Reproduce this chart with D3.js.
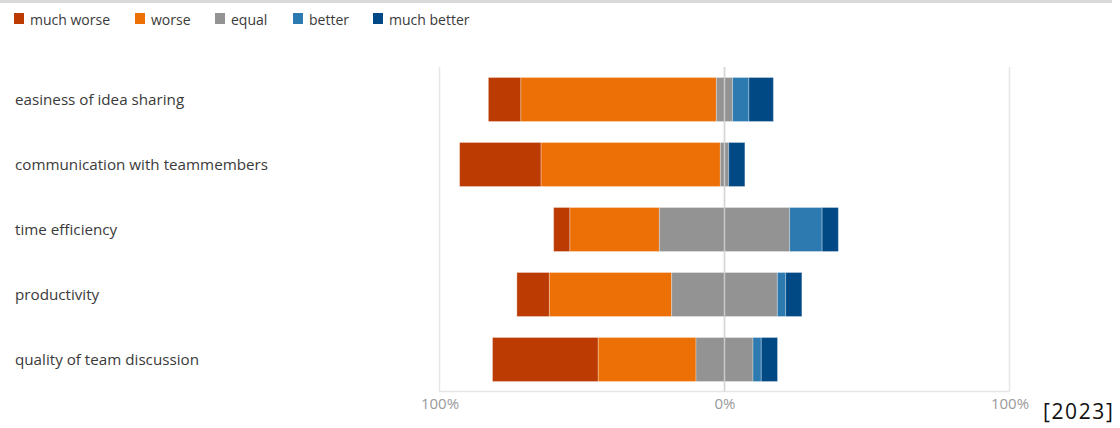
<!DOCTYPE html>
<html>
<head>
<meta charset="utf-8">
<script src="https://cdn.jsdelivr.net/npm/d3@7/dist/d3.min.js"></script>
<style>
  html, body { margin: 0; padding: 0; background: #fff; }
  svg { display: block; font-family: "Open Sans", "Noto Sans", sans-serif; }
</style>
</head>
<body>
<svg id="chart" width="1120" height="428"></svg>
<script>
// ---- data (percent of respondents) ----
const categories = [
  "easiness of idea sharing",
  "communication with teammembers",
  "time efficiency",
  "productivity",
  "quality of team discussion"
];
const seriesNames = ["much worse", "worse", "equal", "better", "much better"];
const muchWorse  = [11.4, 28.6,  5.7, 11.4, 37.1];
const worse      = [68.6, 62.9, 31.4, 42.9, 34.3];
const equal      = [ 5.7,  2.9, 45.7, 37.1, 20.0];
const better     = [ 5.7,  0.0, 11.4,  2.9,  2.9];
const muchBetter = [ 8.6,  5.7,  5.7,  5.7,  5.7];
const tickValues = [-100, 0, 100];
const tickLabels = ["100%", "0%", "100%"];
const yearLabel = "[2023]";
const colors = ["#BB3B02", "#EC7006", "#939393", "#2C7AB0", "#004985"];

const series = [muchWorse, worse, equal, better, muchBetter];

const svg = d3.select("#chart");

// top band
svg.append("rect").attr("x", 0).attr("y", 0).attr("width", 1112).attr("height", 3).attr("fill", "#d9d9d9");

// scales
const x = d3.scaleLinear().domain([-100, 100]).range([439.5, 1009.5]);
const y = d3.scaleBand().domain(categories).range([67, 392]).paddingInner(0.323).paddingOuter(0.1615);

// grid
const grid = svg.append("g");
grid.selectAll("line.v").data([-100, 100]).join("line")
  .attr("x1", d => x(d)).attr("x2", d => x(d))
  .attr("y1", 67).attr("y2", 391.5)
  .attr("stroke", "#e6e6e6").attr("stroke-width", 1.5);
grid.append("line")
  .attr("x1", x(0)).attr("x2", x(0)).attr("y1", 67).attr("y2", 391.5)
  .attr("stroke", "#e6e6e6").attr("stroke-width", 1.5);
grid.append("line")
  .attr("x1", x(-100)).attr("x2", x(100)).attr("y1", 391.5).attr("y2", 391.5)
  .attr("stroke", "#e6e6e6").attr("stroke-width", 1.5);

// segments
const segs = [];
categories.forEach((c, i) => {
  let start = -(muchWorse[i] + worse[i] + equal[i] / 2);
  series.forEach((s, k) => {
    const v = s[i];
    if (v > 0) segs.push({ cat: c, k, x0: start, x1: start + v });
    start += v;
  });
});
svg.append("g").selectAll("rect").data(segs).join("rect")
  .attr("x", d => x(d.x0))
  .attr("width", d => x(d.x1) - x(d.x0))
  .attr("y", d => y(d.cat))
  .attr("height", y.bandwidth())
  .attr("fill", d => colors[d.k])
  .attr("stroke", "rgba(255,255,255,0.3)")
  .attr("stroke-width", 1);

// zero line over bars
svg.append("line")
  .attr("x1", x(0)).attr("x2", x(0)).attr("y1", 67).attr("y2", 391.5)
  .attr("stroke", "#d4d4d4").attr("stroke-width", 1.5).attr("opacity", 0.85);

// x axis
const xAxis = d3.axisBottom(x).tickValues(tickValues).tickSize(0).tickPadding(7)
  .tickFormat((d, i) => tickLabels[i]);
const ax = svg.append("g").attr("transform", "translate(0,391.5)").call(xAxis);
ax.select(".domain").remove();
ax.selectAll("text").attr("fill", "#9a9a9a").style("font-size", "15px").style("font-family", "'Open Sans', sans-serif");

// category labels
svg.append("g").selectAll("text").data(categories).join("text")
  .attr("x", 15)
  .attr("y", d => y(d) + y.bandwidth() / 2)
  .attr("dy", "0.38em")
  .attr("fill", "#3a3a3a")
  .style("font-size", "15.2px")
  .text(d => d);

// legend
const legendX = [14, 135, 215, 293, 373];
const lg = svg.append("g").selectAll("g").data(seriesNames).join("g")
  .attr("transform", (d, i) => `translate(${legendX[i]},0)`);
lg.append("rect").attr("x", 0).attr("y", 13).attr("width", 10).attr("height", 11)
  .attr("fill", (d, i) => colors[i]);
lg.append("text").attr("x", 16).attr("y", 24.5).attr("fill", "#3a3a3a")
  .style("font-size", "14px").text(d => d);

// year label
svg.append("text").attr("x", 1043).attr("y", 419).attr("fill", "#111")
  .style("font-size", "21px").attr("letter-spacing", "1.6px")
  .text(yearLabel);
</script>
</body>
</html>
